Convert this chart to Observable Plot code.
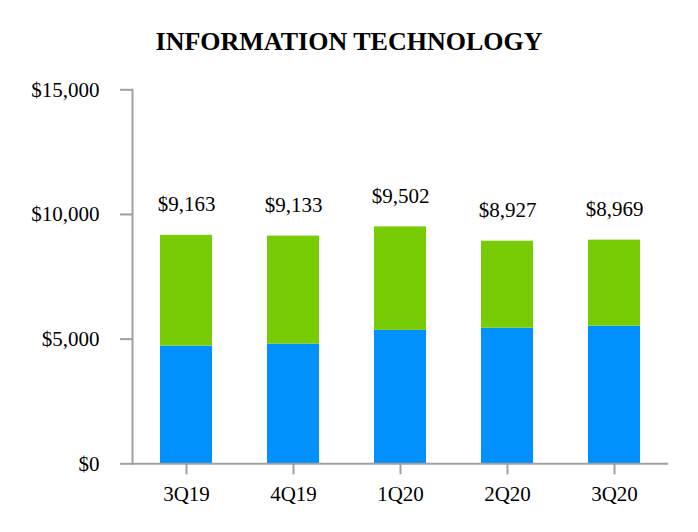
<!DOCTYPE html>
<html>
<head>
<meta charset="utf-8">
<script src="https://cdn.jsdelivr.net/npm/d3@7"></script>
<script src="https://cdn.jsdelivr.net/npm/@observablehq/plot@0.6"></script>
<style>
  html, body { margin: 0; padding: 0; background: #fff; }
  #wrap { width: 698px; height: 532px; position: relative; overflow: hidden; }
  #title { position: relative; height: 70px; }
  #title span { position: absolute; left: 0; width: 698px; text-align: center; top: 29px; line-height: 1;
    font-family: "Liberation Serif", "Times New Roman", serif; font-weight: bold; font-size: 26px; color: #000; }
  svg { display: block; }
</style>
</head>
<body>
<div id="wrap">
  <div id="title"><span>INFORMATION TECHNOLOGY</span></div>
  <div id="chart"></div>
</div>
<script>
const quarters = ["3Q19", "4Q19", "1Q20", "2Q20", "3Q20"];
const totals = [9163, 9133, 9502, 8927, 8969];
const blueValues = [4720, 4800, 5350, 5440, 5520];
const greenValues = [4443, 4333, 4152, 3487, 3449];
const yTicks = [0, 5000, 10000, 15000];
const seriesNames = ["base", "top"];
const seriesColors = ["#0091fe", "#78cc06"];

const rows = [];
quarters.forEach((q, i) => {
  rows.push({quarter: q, series: "base", value: blueValues[i]});
  rows.push({quarter: q, series: "top", value: greenValues[i]});
});
const labels = quarters.map((q, i) => ({quarter: q, total: totals[i]}));

const fmt = v => "$" + d3.format(",")(v);
const axisColor = "#a0a0a0";

const chart = Plot.plot({
  width: 698,
  height: 462,
  marginTop: 19.3,
  marginBottom: 68.7,
  marginLeft: 132,
  marginRight: 30,
  style: {fontFamily: "'Liberation Serif', 'Times New Roman', serif", fontSize: "21px", color: "#000", background: "#fff"},
  x: {domain: quarters, paddingInner: 0.51, paddingOuter: 0.255},
  y: {domain: [0, 15000]},
  color: {domain: seriesNames, range: seriesColors},
  marks: [
    Plot.barY(rows, {x: "quarter", y: "value", fill: "series", order: seriesNames}),
    Plot.text(labels, {x: "quarter", y: "total", text: d => fmt(d.total), dy: -31, lineAnchor: "middle", fontSize: 21, fill: "#000"}),
    Plot.frame({anchor: "left", stroke: axisColor, strokeWidth: 2}),
    Plot.ruleY([0], {stroke: axisColor, strokeWidth: 2}),
    Plot.axisY({ticks: yTicks, tickFormat: fmt, tickSize: 12, tickPadding: 21, stroke: axisColor, strokeWidth: 2, fill: "#000", fontSize: 21, label: null}),
    Plot.axisX({tickSize: 11, tickPadding: 11, stroke: axisColor, strokeWidth: 2, fill: "#000", fontSize: 21, label: null})
  ]
});
document.getElementById("chart").appendChild(chart);
</script>
</body>
</html>
